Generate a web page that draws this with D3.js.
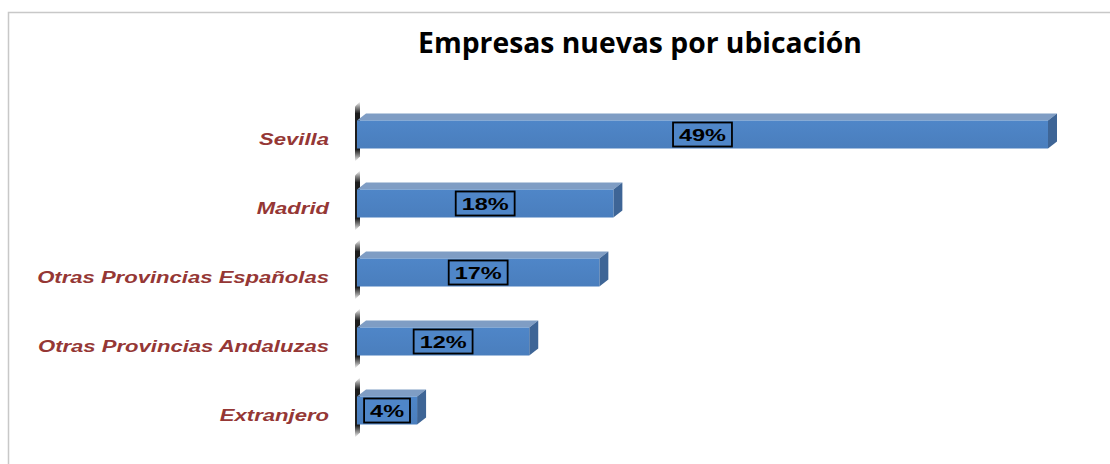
<!DOCTYPE html>
<html><head><meta charset="utf-8">
<script src="https://cdn.jsdelivr.net/npm/d3@7"></script>
<style>body{margin:0;background:#fff}svg{display:block}</style>
</head><body>
<script>
const categories = ["Sevilla","Madrid","Otras Provincias Españolas","Otras Provincias Andaluzas","Extranjero"];
const values = [49,18,17,12,4];
const valueLabels = ["49%","18%","17%","12%","4%"];
const title = "Empresas nuevas por ubicación";

const W=1110,H=464,SX=1.38;
const svg=d3.select("body").append("svg").attr("width",W).attr("height",H);
svg.append("rect").attr("x",8.5).attr("y",12.5).attr("width",W).attr("height",H).attr("fill","#fff").attr("stroke","#c8c8c8").attr("stroke-width",1.5);

const defs=svg.append("defs");
const fg=defs.append("linearGradient").attr("id","front").attr("x1",0).attr("y1",0).attr("x2",0).attr("y2",1);
fg.append("stop").attr("offset","0%").attr("stop-color","#4f86c8");
fg.append("stop").attr("offset","100%").attr("stop-color","#4a7ebd");
const wg=defs.append("linearGradient").attr("id","wall").attr("x1",0).attr("y1",0).attr("x2",0).attr("y2",1);
wg.append("stop").attr("offset","0%").attr("stop-color","#000").attr("stop-opacity",0);
wg.append("stop").attr("offset","20%").attr("stop-color","#111").attr("stop-opacity",0.95);
wg.append("stop").attr("offset","80%").attr("stop-color","#111").attr("stop-opacity",0.95);
wg.append("stop").attr("offset","100%").attr("stop-color","#000").attr("stop-opacity",0);

const x=d3.scaleLinear().domain([0,49]).range([361,1048]);
const y=d3.scaleBand().domain(categories).range([100,445]).paddingInner(0.6).paddingOuter(0.3);
const dx=9,dy=-7,bh=28;
const barY=c=>y(c)+y.bandwidth()/2-bh/2;

// title
const t=svg.append("text").attr("x",640).attr("y",53).attr("text-anchor","middle")
  .attr("font-family","Open Sans, Noto Sans, sans-serif").attr("font-weight","bold").attr("font-size",22).attr("fill","#000").text(title);
const tl=t.node().getComputedTextLength();
t.attr("font-size",22*444/tl);

// wall segments
const g=svg.append("g");
categories.forEach(c=>{
  const by=barY(c);
  g.append("path").attr("d",`M${x(0)-6},${by-14} L${x(0)-1},${by-19} L${x(0)-1},${by+bh+8} L${x(0)-6},${by+bh+13} Z`).attr("fill","url(#wall)");
});

// bars
const data=categories.map((c,i)=>({c,v:values[i],l:valueLabels[i]}));
const bars=g.selectAll(".bar").data(data).enter().append("g");
bars.append("path").attr("d",d=>{const x0=x(0)-4,x1=x(d.v),yy=barY(d.c);
  return `M${x0},${yy} L${x0+dx},${yy+dy} L${x1+dx},${yy+dy} L${x1},${yy} Z`;}).attr("fill","#7f9dc4");
bars.append("path").attr("d",d=>{const x1=x(d.v),yy=barY(d.c);
  return `M${x1},${yy} L${x1+dx},${yy+dy} L${x1+dx},${yy+dy+bh} L${x1},${yy+bh} Z`;}).attr("fill","#3e6596");
bars.append("rect").attr("x",x(0)-4).attr("y",d=>barY(d.c)).attr("width",d=>x(d.v)-x(0)+4).attr("height",bh).attr("fill","url(#front)");

// labels
bars.each(function(d){
  const gg=d3.select(this);
  const cx=(x(0)-4+x(d.v))/2, cy=barY(d.c)+bh/2;
  const tg=gg.append("g").attr("transform",`translate(${cx},${cy+6}) scale(${SX},1)`);
  const tx=tg.append("text").attr("x",0).attr("y",0).attr("text-anchor","middle")
    .attr("font-family","Liberation Sans, Arial, sans-serif").attr("font-weight","bold").attr("font-size",17).attr("fill","#000").text(d.l);
  const w=tx.node().getComputedTextLength()*SX;
  gg.insert("rect","g").attr("x",cx-w/2-6).attr("y",cy-12).attr("width",w+12).attr("height",24)
    .attr("fill","#4f86c8").attr("stroke","#000").attr("stroke-width",1.8);
});

// category labels
svg.append("g").selectAll("g").data(data).enter().append("g")
  .attr("transform",d=>`translate(329,${barY(d.c)+bh/2+10}) scale(${SX},1)`)
  .append("text").attr("text-anchor","end")
  .attr("font-family","Liberation Sans, Arial, sans-serif").attr("font-weight","bold").attr("font-style","italic")
  .attr("font-size",16).attr("fill","#953735").text(d=>d.c);
</script>
</body></html>
